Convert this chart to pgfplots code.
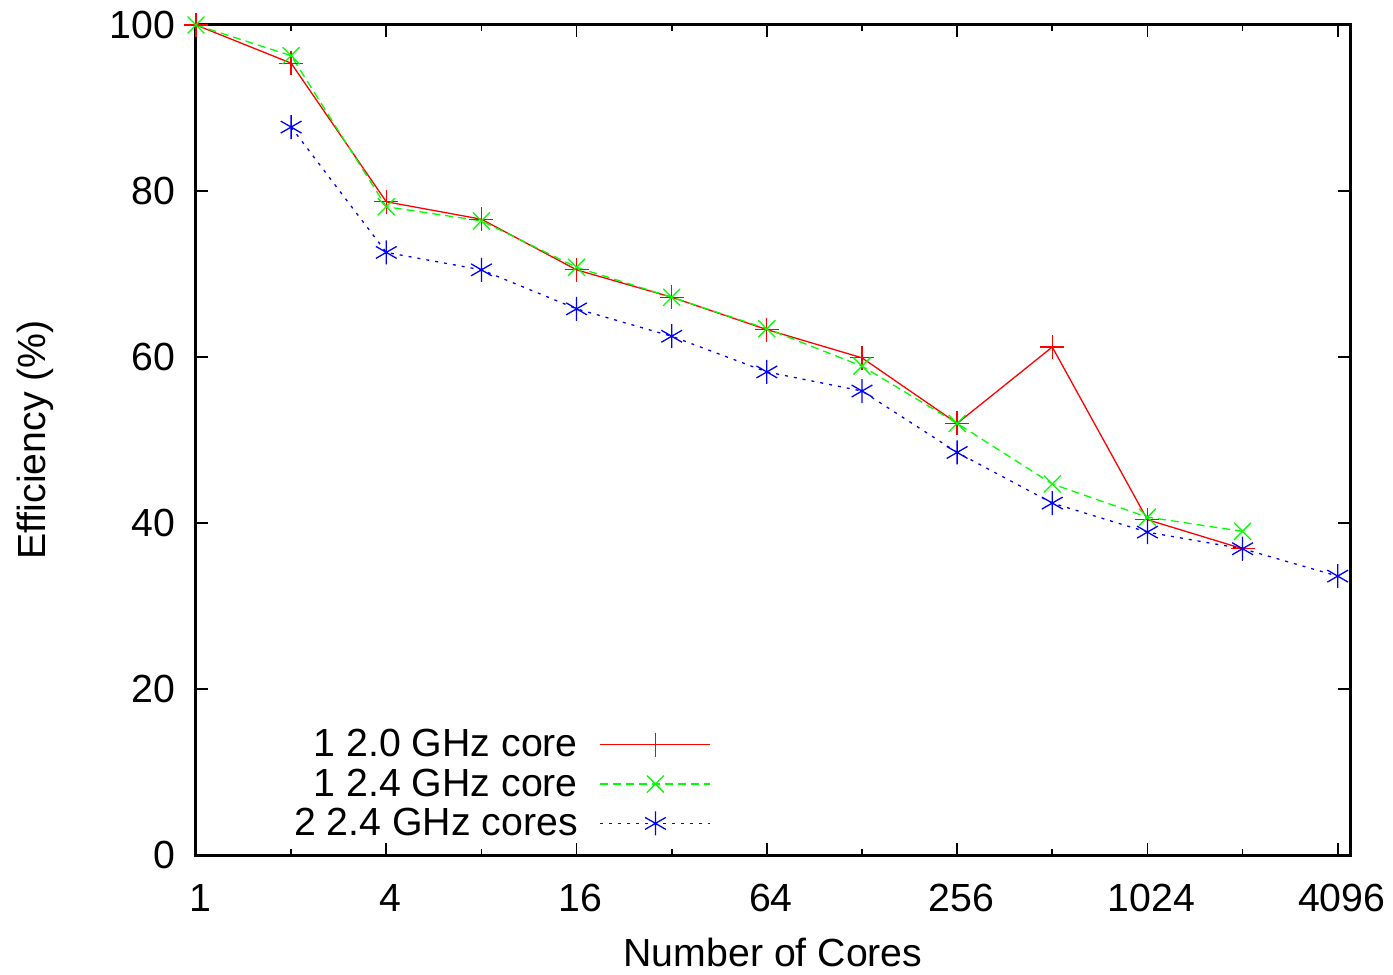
\documentclass[border=0pt]{standalone}
\usepackage{pgfplots}
\pgfplotsset{compat=1.18}
\usepackage{fontspec}
\setmainfont{Liberation Sans}
\definecolor{gpred}{RGB}{255,0,0}
\definecolor{gpgreen}{RGB}{0,255,0}
\definecolor{gpblue}{RGB}{0,0,255}

\begin{document}
\begin{tikzpicture}
\begin{axis}[width=577bp,height=415bp,scale only axis,
 xmode=log,log basis x=2,xmin=1,xmax=4480,ymin=0,ymax=100,
 xtick={1,4,16,64,256,1024,4096},xticklabels={1,4,16,64,256,1024,4096},
 extra x ticks={2,8,32,128,512,2048},extra x tick labels={},
 extra x tick style={major tick length=3bp},
 ytick={0,20,40,60,80,100},
 tick align=inside,major tick length=6bp,
 axis line style={line width=1.5bp},every tick/.style={black,line width=0.8bp},
 font=\fontsize{19.7}{23}\selectfont,
 /pgf/number format/assume math mode=true,
 xticklabel style={yshift=-11bp,xshift=2bp},yticklabel style={xshift=-7bp},
 xlabel={Number of Cores},ylabel={Efficiency (\%)},
 xlabel style={at={(axis description cs:0.5,-0.118)},anchor=center},
 ylabel style={at={(axis description cs:-0.1395,0.5)},anchor=center},
 legend plot pos=right,
 legend style={draw=none,fill=none,at={(axis description cs:0.4467,0.0855)},anchor=east,
  row sep=0.5bp,column sep=9bp,inner sep=0pt},
 legend cell align=right,
 legend image code/.code={\draw[mark repeat=2,mark phase=2,#1] plot coordinates {(0bp,0bp) (27.5bp,0bp) (55bp,0bp)};},
 every axis plot/.append style={line width=0.65bp,mark size=6bp,mark options={solid,line width=0.65bp}}]
\addplot[color=gpred,mark=+] coordinates {(1,100) (2,95.4) (4,78.7) (8,76.6) (16,70.5) (32,67.2) (64,63.3) (128,59.9) (256,52.0) (512,61.2) (1024,40.4) (2048,36.9)};
\addlegendentry{1 2.0 GHz core}
\addplot[color=gpgreen,dash pattern=on 4bp off 2.5bp,mark=x] coordinates {(1,100) (2,96.3) (4,78.1) (8,76.4) (16,70.8) (32,67.2) (64,63.4) (128,58.9) (256,52.0) (512,44.7) (1024,40.7) (2048,39.0)};
\addlegendentry{1 2.4 GHz core}
\addplot[color=gpblue,dash pattern=on 1.5bp off 3bp,mark=asterisk] coordinates {(2,87.7) (4,72.6) (8,70.5) (16,65.8) (32,62.5) (64,58.2) (128,55.9) (256,48.5) (512,42.4) (1024,38.9) (2048,36.9) (4096,33.6)};
\addlegendentry{2 2.4 GHz cores}
\end{axis}
\pgfresetboundingbox
\path ([shift={(-98bp,-60bp)}]current axis.south west) rectangle ([shift={(21.5bp,12.5bp)}]current axis.north east);
\end{tikzpicture}
\end{document}
